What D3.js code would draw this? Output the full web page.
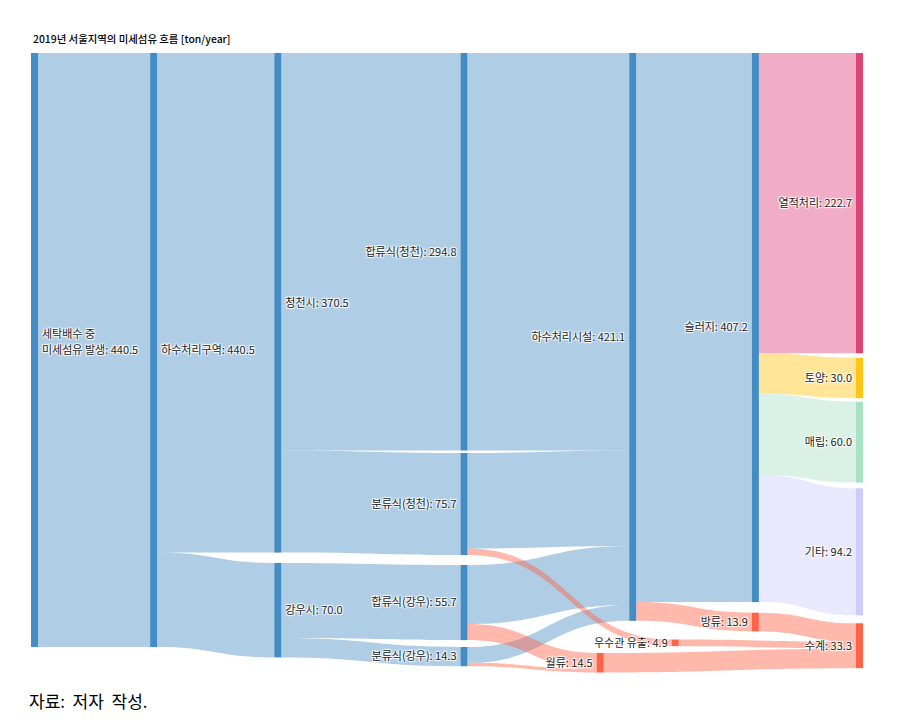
<!DOCTYPE html>
<html>
<head>
<meta charset="utf-8">
<script src="https://cdn.jsdelivr.net/npm/d3@7"></script>
<style>
body { margin: 0; background: #fff; }
svg text { font-family: "Noto Sans CJK KR", "Noto Sans", sans-serif; }
.node-label {
	font-size: 11px;
	fill: #1e1e1e;
	text-shadow: 1px 1px 1px #fff, -1px -1px 1px #fff, 1px -1px 1px #fff, -1px 1px 1px #fff;
}
</style>
</head>
<body>
<script>
// nodes
var nodeNames = ['세탁배수 중<br>미세섬유 발생', '하수처리구역', '청천시', '강우시',
	'합류식(청천)', '분류식(청천)', '합류식(강우)', '분류식(강우)',
	'하수처리시설', '월류', '우수관 유출', '슬러지', '방류',
	'열적처리', '토양', '매립', '기타', '수계'];
var nodeGroup = ['flow', 'flow', 'flow', 'flow', 'flow', 'flow', 'flow', 'flow',
	'flow', 'loss', 'loss', 'flow', 'loss', 'heat', 'soil', 'landfill', 'etc', 'loss'];

// links (ton/year)
var linkSource = [0, 1, 1, 2, 2, 3, 3, 4, 5, 5, 6, 6, 7, 7, 8, 8, 11, 11, 11, 11, 12, 10, 9];
var linkTarget = [1, 2, 3, 4, 5, 6, 7, 8, 8, 10, 8, 9, 8, 9, 11, 12, 13, 14, 15, 16, 17, 17, 17];
var linkValue = [440.5, 370.5, 70.0, 294.8, 75.7, 55.7, 14.3, 294.8, 70.8, 4.9, 43.7, 12.0, 11.8, 2.5,
	407.2, 13.9, 222.7, 30.0, 60.0, 94.2, 13.9, 4.9, 14.5];

var titleText = '2019년 서울지역의 미세섬유 흐름 [ton/year]';
var sourceText = '자료:  저자  작성.';

// node arrangement (fractions of plot area, like plotly's node.x / node.y)
var arrangeX = [0, 0.1444, 0.2949, 0.2949, 0.5206, 0.5206, 0.5206, 0.5206,
	0.7251, 0.6857, 0.7767, 0.8738, 0.8738, 1, 1, 1, 1, 1];
var arrangeY = [0, 0, 0, 0.8226, 0, 0.6452, 0.8258, 0.958,
	0, 0.9677, 0.946, 0, 0.9027, 0, 0.4915, 0.5624, 0.7021, 0.9198];

var colors = {
	node: { flow: '#438cc4', loss: '#ff6347', heat: '#de4577', soil: '#ffc61a', landfill: '#a9e3c6', etc: '#cdcdfc' },
	link: { flow: 'rgba(70,140,195,0.43)', loss: 'rgba(255,99,71,0.45)', heat: 'rgba(220,50,110,0.4)',
		soil: 'rgba(255,198,25,0.45)', landfill: 'rgba(160,222,190,0.4)', etc: 'rgba(204,204,255,0.45)' }
};

var width = 910, height = 726,
	nodeWidth = 7;

var svg = d3.select(document.body).append('svg')
	.attr('width', width)
	.attr('height', height);

var x = d3.scaleLinear().domain([0, 1]).range([31, 856]);
var y = d3.scaleLinear().domain([0, 1]).range([53, 673]);
var k = d3.scaleLinear().domain([0, 440.5]).range([0, 594]);

// build nodes
var nodes = nodeNames.map(function(name, i) {
	return { index: i, name: name, group: nodeGroup[i], sourceLinks: [], targetLinks: [] };
});
var links = linkValue.map(function(v, i) {
	var l = { source: nodes[linkSource[i]], target: nodes[linkTarget[i]], value: v };
	l.source.sourceLinks.push(l);
	l.target.targetLinks.push(l);
	return l;
});
nodes.forEach(function(n, i) {
	n.value = Math.max(d3.sum(n.sourceLinks, function(l) { return l.value; }),
		d3.sum(n.targetLinks, function(l) { return l.value; }));
	n.x0 = x(arrangeX[i]);
	n.x1 = n.x0 + nodeWidth;
	n.y0 = y(arrangeY[i]);
	n.y1 = n.y0 + k(n.value);
});
nodes.forEach(function(n) {
	var sy = n.y0, ty = n.y0;
	n.sourceLinks.sort(function(a, b) { return a.target.y0 - b.target.y0; })
		.forEach(function(l) { l.w = k(l.value); l.y0 = sy; sy += l.w; });
	n.targetLinks.sort(function(a, b) { return a.source.y0 - b.source.y0; })
		.forEach(function(l) { l.y1 = ty; ty += k(l.value); });
});

function linkPath(d) {
	var x0 = d.source.x1, x1 = d.target.x0, xm = (x0 + x1) / 2;
	var p = d3.path();
	p.moveTo(x0, d.y0);
	p.bezierCurveTo(xm, d.y0, xm, d.y1, x1, d.y1);
	p.lineTo(x1, d.y1 + d.w);
	p.bezierCurveTo(xm, d.y1 + d.w, xm, d.y0 + d.w, x0, d.y0 + d.w);
	p.closePath();
	return p.toString();
}

// title
svg.append('text')
	.attr('x', 33)
	.attr('y', 43)
	.style('font-size', '10.4px')
	.style('font-weight', 500)
	.style('fill', '#000')
	.text(titleText);

// links
svg.append('g').attr('class', 'links')
	.selectAll('path').data(links.filter(function(l) { return l.target.group === 'flow'; })
		.concat(links.filter(function(l) { return l.target.group !== 'flow'; })))
	.enter().append('path')
	.attr('d', linkPath)
	.attr('fill', function(d) { return colors.link[d.target.group]; });

// nodes
svg.append('g').attr('class', 'nodes')
	.selectAll('rect').data(nodes)
	.enter().append('rect')
	.attr('x', function(d) { return d.x0; })
	.attr('y', function(d) { return d.y0; })
	.attr('width', nodeWidth)
	.attr('height', function(d) { return d.y1 - d.y0; })
	.attr('fill', function(d) { return colors.node[d.group]; });

// labels
var fmt = d3.format('.1f');
var label = svg.append('g').selectAll('text').data(nodes)
	.enter().append('text')
	.attr('class', 'node-label')
	.attr('text-anchor', function(d) { return d.x0 < width / 2 ? 'start' : 'end'; })
	.attr('transform', function(d) {
		var lx = d.x0 < width / 2 ? d.x1 + 4 : d.x0 - 4;
		return 'translate(' + lx + ',' + ((d.y0 + d.y1) / 2) + ')';
	});
label.each(function(d) {
	var lines = (d.name + ': ' + fmt(d.value)).split('<br>');
	d3.select(this).selectAll('tspan').data(lines)
		.enter().append('tspan')
		.attr('x', 0)
		.attr('y', function(t, i) { return (i - lines.length + 1) * 16; })
		.attr('dy', '0.35em')
		.text(function(t) { return t; });
});

// source note
svg.append('text')
	.attr('x', 29)
	.attr('y', 708)
	.style('font-size', '17px')
	.style('white-space', 'pre')
	.style('fill', '#000')
	.text(sourceText);
</script>
</body>
</html>
